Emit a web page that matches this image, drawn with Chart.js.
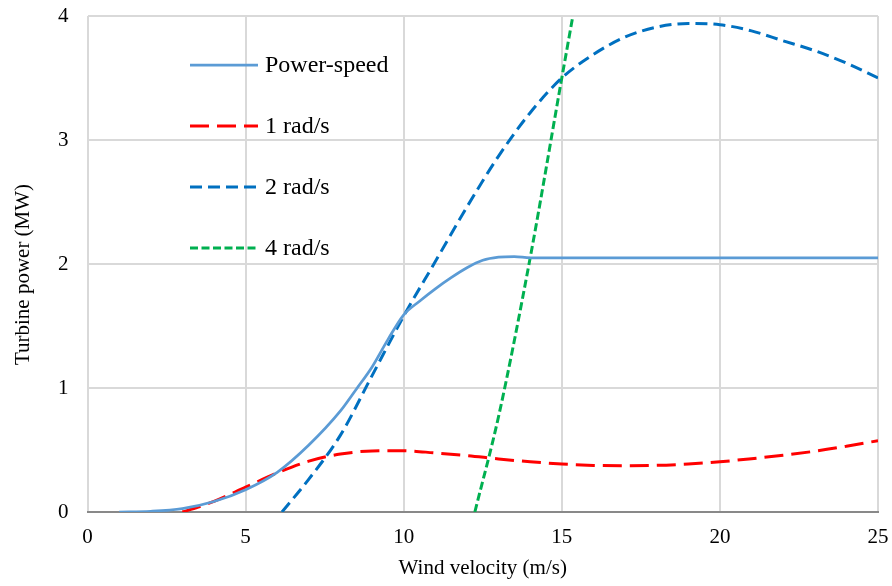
<!DOCTYPE html>
<html>
<head>
<meta charset="utf-8">
<title>Turbine power</title>
<script src="https://cdn.jsdelivr.net/npm/chart.js@4.4.1/dist/chart.umd.min.js"></script>
<style>
    html, body { margin: 0; padding: 0; background: #fff; }
</style>
</head>
<body>
<canvas id="myChart" width="892" height="586"></canvas>
<script>
// values: wind velocity (m/s) -> turbine power (MW)
var powerSpeedX = [1, 2, 3, 4, 5, 6, 7, 8, 8.5, 9, 9.5, 10, 10.5, 11, 11.5, 12, 12.5, 13, 13.5, 14, 15, 16, 17, 18, 19, 20, 21, 22, 23, 24, 25];
var powerSpeedY = [0, 0.006, 0.028, 0.085, 0.18, 0.32, 0.54, 0.815, 0.99, 1.17, 1.39, 1.59, 1.70, 1.80, 1.89, 1.97, 2.03, 2.055, 2.06, 2.05, 2.05, 2.05, 2.05, 2.05, 2.05, 2.05, 2.05, 2.05, 2.05, 2.05, 2.05];

var rad1X = [3, 3.5, 4, 5, 6, 7, 8, 9, 10, 11, 12, 13, 14, 15, 16, 17, 18, 19, 20, 21, 22, 23, 24, 25];
var rad1Y = [0, 0.04, 0.085, 0.2, 0.315, 0.41, 0.467, 0.492, 0.494, 0.476, 0.455, 0.428, 0.405, 0.387, 0.376, 0.373, 0.376, 0.387, 0.405, 0.43, 0.458, 0.49, 0.53, 0.575];

var rad2X = [6.15, 7, 8, 9, 10, 11, 12, 13, 14, 15, 16, 17, 18, 19, 20, 21, 22, 23, 24, 25];
var rad2Y = [0, 0.265, 0.62, 1.1, 1.58, 2.02, 2.46, 2.87, 3.22, 3.5, 3.69, 3.83, 3.91, 3.94, 3.93, 3.88, 3.80, 3.72, 3.62, 3.5];

var rad4X = [12.25, 13, 14, 15, 15.35];
var rad4Y = [0, 0.77, 2.05, 3.5, 4.0];

var seriesNames = ['Power-speed', '1 rad/s', '2 rad/s', '4 rad/s'];

var xTicks = [0, 5, 10, 15, 20, 25];
var yTicks = [0, 1, 2, 3, 4];

var serif = "'Liberation Serif', 'Times New Roman', serif";

function points(xs, ys) {
    return xs.map(function (x, i) { return { x: x, y: ys[i] }; });
}

// legend sits inside the plot, drawn by hand
var insideLegend = {
    id: 'insideLegend',
    afterDatasetsDraw: function (chart) {
        var ctx = chart.ctx;
        ctx.save();
        chart.data.datasets.forEach(function (ds, i) {
            var y = 65 + i * 61;
            ctx.beginPath();
            ctx.lineWidth = ds.borderWidth;
            ctx.strokeStyle = ds.borderColor;
            ctx.setLineDash(ds.borderDash || []);
            ctx.moveTo(190, y);
            ctx.lineTo(258, y);
            ctx.stroke();
            ctx.setLineDash([]);
            ctx.fillStyle = '#000';
            ctx.font = '24px ' + serif;
            ctx.textBaseline = 'middle';
            ctx.textAlign = 'left';
            ctx.fillText(ds.label, 265, y + 1);
        });
        ctx.restore();
    }
};

var ctx = document.getElementById('myChart').getContext('2d');
var chart = new Chart(ctx, {
    type: 'line',
    data: {
        datasets: [{
                label: seriesNames[0],
                data: points(powerSpeedX, powerSpeedY),
                borderColor: '#5B9BD5',
                borderWidth: 2.75,
                cubicInterpolationMode: 'monotone'
            },
            {
                label: seriesNames[1],
                data: points(rad1X, rad1Y),
                borderColor: '#FF0000',
                borderWidth: 3,
                borderDash: [19, 8],
                cubicInterpolationMode: 'monotone'
            },
            {
                label: seriesNames[2],
                data: points(rad2X, rad2Y),
                borderColor: '#0070C0',
                borderWidth: 3,
                borderDash: [12, 6],
                cubicInterpolationMode: 'monotone'
            },
            {
                label: seriesNames[3],
                data: points(rad4X, rad4Y),
                borderColor: '#00B050',
                borderWidth: 3,
                borderDash: [8, 3.5],
                cubicInterpolationMode: 'monotone'
            }
        ]
    },
    options: {
        responsive: false,
        animation: false,
        layout: { padding: { top: 16, right: 14, bottom: 0, left: 0 } },
        elements: {
            point: { radius: 0 },
            line: { fill: false }
        },
        plugins: {
            legend: { display: false },
            tooltip: { enabled: false }
        },
        scales: {
            x: {
                type: 'linear',
                min: 0,
                max: 25,
                afterFit: function (scale) {
                    scale.height = 74;
                    scale.paddingLeft = 0;
                    scale.paddingRight = 0;
                },
                afterBuildTicks: function (scale) {
                    scale.ticks = xTicks.map(function (v) { return { value: v }; });
                },
                grid: { color: '#D9D9D9', lineWidth: 2, drawTicks: false },
                border: { display: true, color: '#898989', width: 2 },
                ticks: { color: '#000', padding: 13, font: { family: serif, size: 21 } },
                title: {
                    display: true,
                    text: 'Wind velocity (m/s)',
                    color: '#000',
                    font: { family: serif, size: 21 },
                    padding: { top: 0, bottom: 5 }
                }
            },
            y: {
                min: 0,
                max: 4,
                afterFit: function (scale) {
                    scale.width = 87.5;
                    scale.paddingTop = 0;
                    scale.paddingBottom = 0;
                },
                afterBuildTicks: function (scale) {
                    scale.ticks = yTicks.map(function (v) { return { value: v }; });
                },
                grid: {
                    color: function (c) { return c.tick && c.tick.value === 0 ? '#898989' : '#D9D9D9'; },
                    lineWidth: 2,
                    drawTicks: false
                },
                border: { display: false },
                ticks: { color: '#000', padding: 19, font: { family: serif, size: 21 } },
                title: {
                    display: true,
                    // trailing en spaces nudge the title a bit lower, as in the original
                    text: 'Turbine power (MW)\u2002\u2002',
                    color: '#000',
                    font: { family: serif, size: 21 },
                    padding: { top: 11, bottom: 0 }
                }
            }
        }
    },
    plugins: [insideLegend]
});
</script>
</body>
</html>
